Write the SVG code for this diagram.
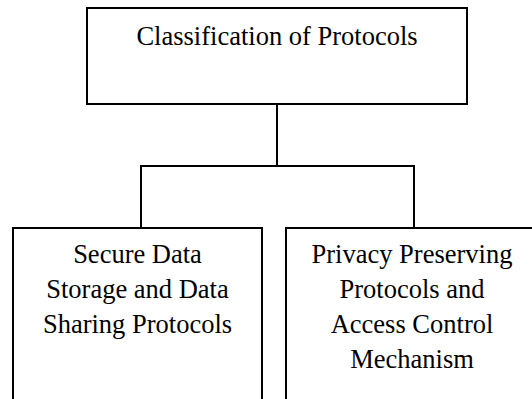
<svg xmlns="http://www.w3.org/2000/svg" width="532" height="399" viewBox="0 0 532 399">
  <style>
    .box { fill: #ffffff; stroke: #000000; stroke-width: 2; }
    .wire { fill: none; stroke: #000000; stroke-width: 2; }
    .label { font-family: 'Liberation Serif', 'Times New Roman', 'DejaVu Serif', serif; font-size: 26.5px; fill: #000000; text-anchor: middle; }
  </style>
  <rect width="532" height="399" fill="#ffffff"/>

  <!-- tree connectors -->
  <g id="connectors">
    <path class="wire" d="M277,104 V166"/>
    <path class="wire" d="M141,228 V166 H414 V228"/>
  </g>

  <!-- root node -->
  <g id="root">
    <rect class="box" x="87" y="8" width="380" height="96"/>
    <text class="label" font-family="Liberation Serif, serif" x="277" y="45">Classification of Protocols</text>
  </g>

  <!-- left child -->
  <g id="storage-sharing">
    <rect class="box" x="13" y="228" width="249" height="190"/>
    <text class="label" x="137.5" y="263">Secure Data</text>
    <text class="label" x="137.5" y="298">Storage and Data</text>
    <text class="label" x="137.5" y="333">Sharing Protocols</text>
  </g>

  <!-- right child -->
  <g id="privacy-access">
    <rect class="box" x="286" y="228" width="254" height="190"/>
    <text class="label" x="412" y="263">Privacy Preserving</text>
    <text class="label" x="412" y="298">Protocols and</text>
    <text class="label" x="412" y="333">Access Control</text>
    <text class="label" x="412" y="368">Mechanism</text>
  </g>
</svg>
